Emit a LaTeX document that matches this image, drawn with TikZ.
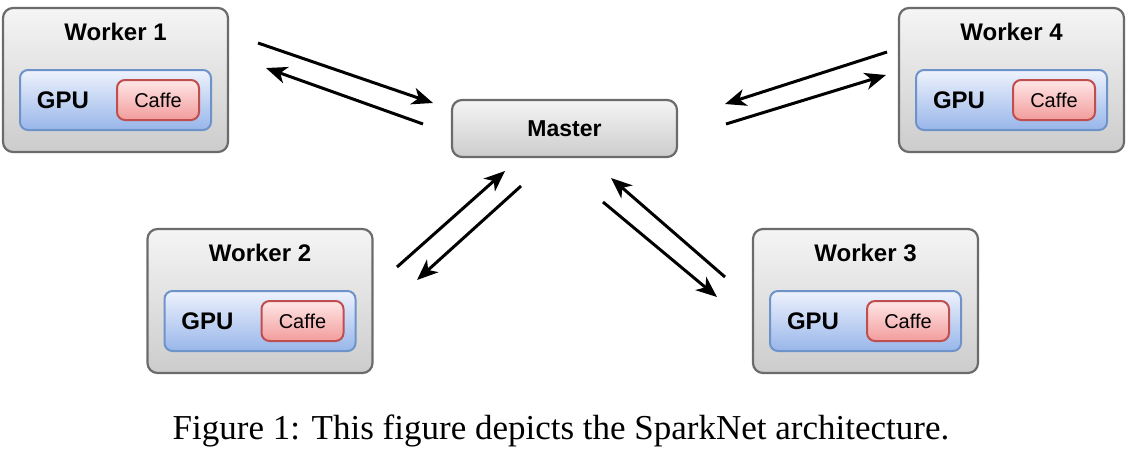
\documentclass[tikz,border=0pt]{standalone}
\usepackage{fontspec}
\setmainfont{Liberation Serif}
\setsansfont{Liberation Sans}
\usetikzlibrary{arrows.meta,shadings}

\definecolor{boxline}{HTML}{6B6B6B}
\definecolor{gputop}{HTML}{EEF2FC}
\definecolor{gpubot}{HTML}{98B6EA}
\definecolor{gpuline}{HTML}{6E93C9}
\definecolor{caffetop}{HTML}{FFE6E6}
\definecolor{caffebot}{HTML}{F29C9C}
\definecolor{caffeline}{HTML}{BF4F4F}

\tikzset{
  workerbox/.style={draw=boxline, line width=1.1pt, rounded corners=5pt,
    top color=gray!8, bottom color=gray!40, minimum width=112.5pt, minimum height=72pt},
  masterbox/.style={workerbox, minimum height=28.5pt, font=\sffamily\bfseries\fontsize{11.5}{13}\selectfont},
  gpubox/.style={draw=gpuline, line width=1pt, rounded corners=4pt,
    top color=gputop, bottom color=gpubot, minimum width=95.5pt, minimum height=30pt},
  caffebox/.style={draw=caffeline, line width=1pt, rounded corners=4pt,
    top color=caffetop, bottom color=caffebot, minimum width=41pt, minimum height=20pt,
    font=\sffamily\fontsize{10}{12}\selectfont},
  title/.style={font=\sffamily\bfseries\fontsize{12}{14}\selectfont},
  gpulabel/.style={font=\sffamily\bfseries\fontsize{12}{14}\selectfont},
  msg/.style={-{Stealth[length=10.5pt,width=8.5pt,inset=3pt]}, line width=1.5pt},
}

\begin{document}
\begin{tikzpicture}[x=0.5pt,y=-0.5pt]
  \useasboundingbox (0,0) rectangle (1127,457);

  % master
  \node[masterbox] (master) at (564.5,128.5) {Master};

  % workers
  \foreach \i/\x/\y in {1/115.5/80, 2/260/301, 3/865.5/301, 4/1011.5/80}{
    \node[workerbox] (w\i) at (\x,\y) {};
    \node[title] (t\i) at (\x,\y-48) {Worker \i};
    \node[gpubox] (gpu\i) at (\x,\y+20) {};
    \node[gpulabel] (g\i) at (\x-52.5,\y+20) {GPU};
    \node[caffebox] (caffe\i) at (\x+42.5,\y+20) {Caffe};
  }

  % end points of the messages
  \coordinate (a1s) at (258,43);  \coordinate (a1e) at (433,103);
  \coordinate (a2s) at (423,124); \coordinate (a2e) at (266,68);
  \coordinate (a3s) at (887,52);  \coordinate (a3e) at (725,104);
  \coordinate (a4s) at (726,124); \coordinate (a4e) at (886,75);
  \coordinate (a5s) at (397,267); \coordinate (a5e) at (505,171);
  \coordinate (a6s) at (521,186); \coordinate (a6e) at (417,280);
  \coordinate (a7s) at (725,277); \coordinate (a7e) at (611,178);
  \coordinate (a8s) at (603,202); \coordinate (a8e) at (717,297);

  % messages between master and workers
  \foreach \k in {1,...,8}{
    \draw[msg] (a\k s) -- (a\k e);
  }

  % caption
  \node[anchor=base, font=\fontsize{17.5}{20}\selectfont] (cap) at (561,439)
    {Figure 1: This figure depicts the SparkNet architecture.};
\end{tikzpicture}
\end{document}
